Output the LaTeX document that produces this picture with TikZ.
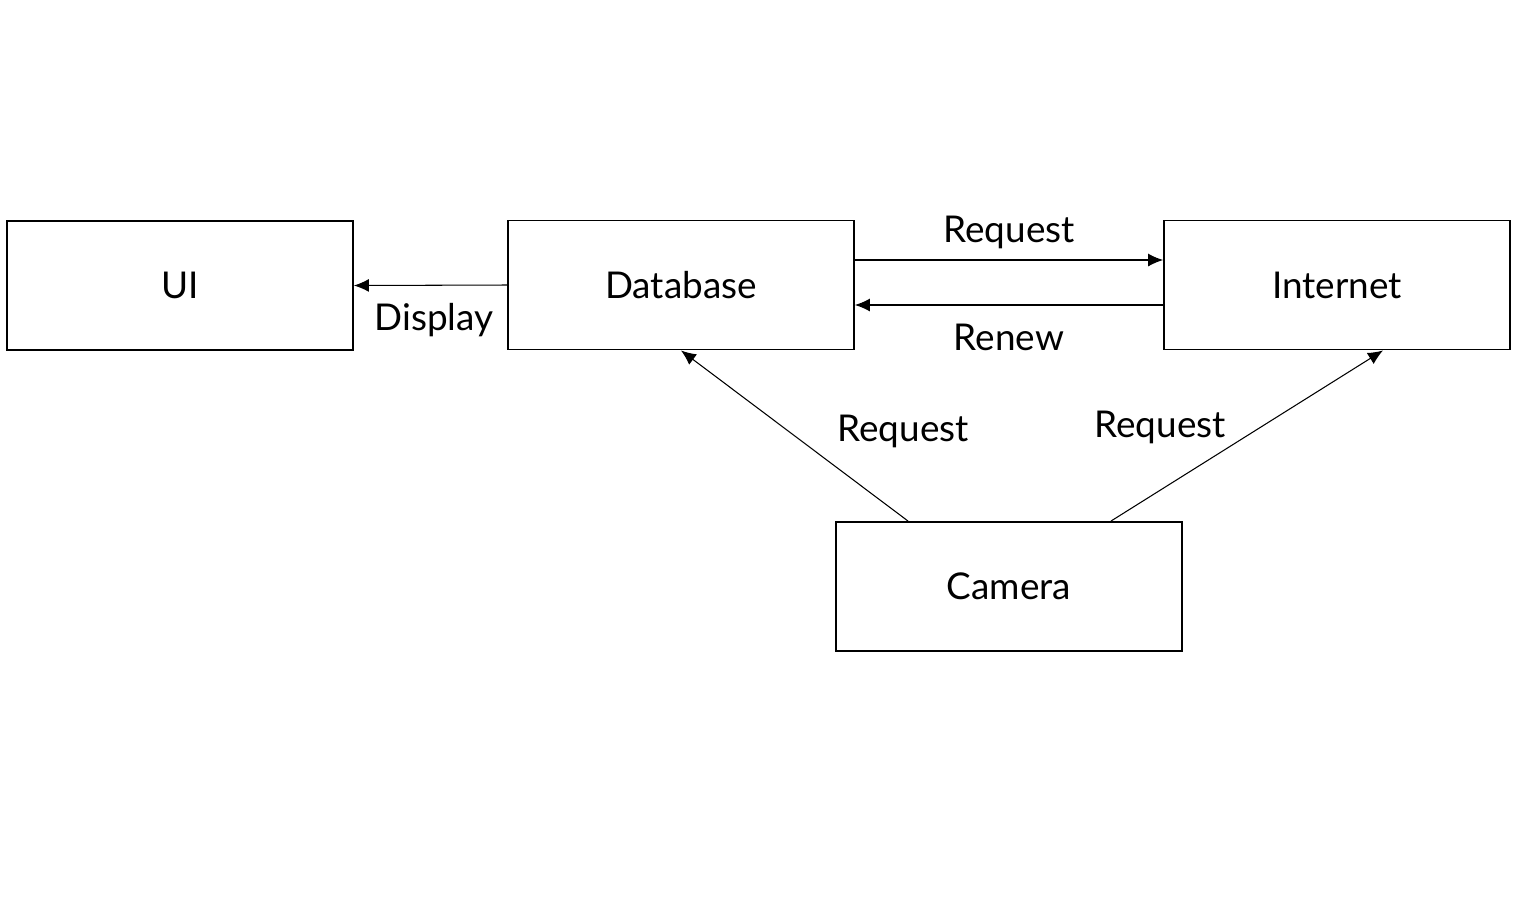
\documentclass[tikz,border=0pt]{standalone}
\usepackage{fontspec}
\setmainfont{Lato}
\usepackage{tikz}
\usetikzlibrary{arrows.meta}

\tikzset{
  block/.style={draw, line width=1.1pt, minimum width=6.92cm, minimum height=2.58cm,
    inner sep=0pt, font=\fontsize{21}{25}\selectfont},
  lbl/.style={inner sep=1pt, font=\fontsize{21}{25}\selectfont},
  link/.style={->, line width=0.6pt}
}

\begin{document}
\begin{tikzpicture}[x=0.02cm,y=-0.02cm,>={Latex[length=3mm,width=2.6mm]}]

        % fix the page size
        \useasboundingbox (0,0) rectangle (1518,904);

        % draw the boxes
        \node[block] (ui)       at (180,285.5)  {UI};
        \node[block] (database) at (681,285)    {Database};
        \node[block] (internet) at (1337,285)   {Internet};
        \node[block] (camera)   at (1009,586.5) {Camera};

        % draw the arrows
        \draw[link] (database.west) -- (ui.east);
        \draw[link] ([yshift=0.5cm]database.east) -- ([yshift=0.5cm]internet.west);
        \draw[link] ([yshift=-0.4cm]internet.west) -- ([yshift=-0.4cm]database.east);
        \draw[link] ([xshift=-2.02cm]camera.north) -- (database.south);
        \draw[link] ([xshift=2.04cm]camera.north) -- ([xshift=0.92cm]internet.south);

        % the labels
        \node[lbl] (display)  at (434,320)  {Display};
        \node[lbl] (request1) at (1009,232) {Request};
        \node[lbl] (renew)    at (1009,337) {Renew};
        \node[lbl] (request2) at (903,431)  {Request};
        \node[lbl] (request3) at (1160,427) {Request};
    \end{tikzpicture}
\end{document}
